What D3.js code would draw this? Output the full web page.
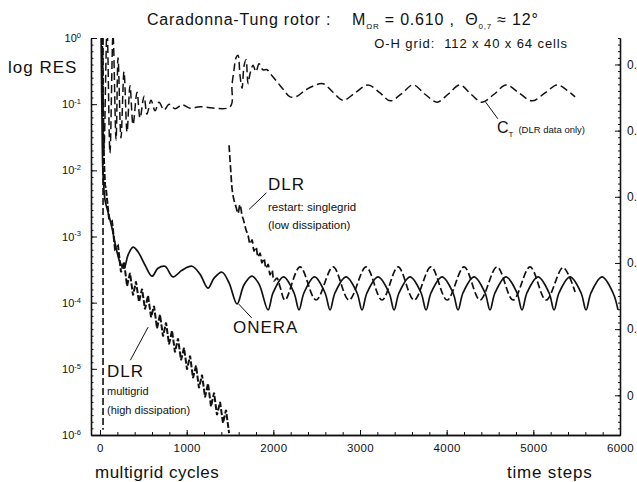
<!DOCTYPE html>
<html lang="en">

<head>
	<meta charset="utf-8">
	<script src='https://d3js.org/d3.v7.min.js'></script>
</head>

<body style="margin:0; background-color:white;">
	<style>
		text {
			font-family: "Liberation Sans", Arial, sans-serif;
			fill: #111;
			white-space: pre;
		}
	</style>
	<script>

    // x values are steps (multigrid cycles, then time steps), y values are log10(RES)
    // C_T values are in units of 1e-3 (right axis)

    var onera = [[12,0.12],[23,-1.24],[35,-2.07],[58,-2.45],[92,-2.63],[138,-2.87],[185,-3.17],[231,-3.39],
        [277,-3.48],[323,-3.28],[381,-3.16],[438,-3.23],[519,-3.43],[600,-3.60],[669,-3.48],[750,-3.45],
        [842,-3.61],[946,-3.51],[1062,-3.45],[1154,-3.57],[1246,-3.78],[1316,-3.63],[1408,-3.54],[1489,-3.70],
        [1581,-4.02],[1662,-3.73],[1754,-3.60],[1835,-3.72],[1939,-4.11],
        [1997,-3.85],[2118,-3.61],[2238,-3.85],[2296,-4.11],[2354,-3.85],[2475,-3.61],[2596,-3.85],[2654,-4.11],
        [2712,-3.85],[2839,-3.61],[2965,-3.85],[3023,-4.11],[3081,-3.85],[3208,-3.61],[3335,-3.85],[3393,-4.11],
        [3451,-3.85],[3578,-3.61],[3704,-3.85],[3762,-4.11],[3820,-3.85],[3947,-3.61],[4073,-3.85],[4131,-4.11],
        [4189,-3.85],[4316,-3.61],[4442,-3.85],[4500,-4.11],[4558,-3.85],[4685,-3.61],[4811,-3.85],[4869,-4.11],
        [4927,-3.85],[5054,-3.61],[5181,-3.85],[5239,-4.11],[5297,-3.85],[5424,-3.61],[5550,-3.85],[5608,-4.11],
        [5666,-3.85],[5793,-3.61],[5919,-3.85],[5977,-4.11]];

    var dlrMultigrid = [[23,0.12],[35,-0.94],[46,-1.84],[58,-2.22],[69,-2.28],[104,-2.73],[138,-2.76],[173,-3.19],
        [208,-3.14],[242,-3.54],[277,-3.38],[312,-3.75],[346,-3.55],[381,-3.89],[415,-3.68],[450,-3.99],
        [485,-3.79],[519,-4.10],[554,-3.89],[589,-4.22],[623,-4.05],[658,-4.39],[692,-4.18],[727,-4.51],
        [762,-4.30],[796,-4.63],[831,-4.42],[865,-4.75],[900,-4.54],[935,-4.87],[969,-4.68],[1004,-5.01],
        [1039,-4.80],[1073,-5.14],[1108,-4.95],[1142,-5.29],[1177,-5.09],[1212,-5.43],[1246,-5.22],[1281,-5.57],
        [1316,-5.36],[1350,-5.70],[1385,-5.50],[1419,-5.82],[1454,-5.62],[1489,-5.97]];

    var dlrFirstCycles = [[35,0.0],[35,-5.92]];

    var dlrRestart = [[1489,-1.62],[1500,-1.84],[1512,-2.07],[1523,-2.27],[1546,-2.45],[1569,-2.55],[1592,-2.65],
        [1615,-2.52],[1639,-2.68],[1662,-2.78],[1685,-2.90],[1708,-2.98],[1731,-3.11],[1754,-3.05],[1777,-3.22],
        [1800,-3.16],[1823,-3.31],[1846,-3.25],[1869,-3.40],[1892,-3.33],[1915,-3.48],[1939,-3.42],[1962,-3.58],
        [1985,-3.51],[2008,-3.67],[2042,-3.63],[2077,-3.76],[2135,-3.96],[2308,-3.46],[2493,-3.96],[2689,-3.46],
        [2873,-3.96],[3070,-3.46],[3254,-3.96],[3439,-3.46],[3624,-3.96],[3820,-3.46],[4004,-3.96],[4201,-3.46],
        [4385,-3.96],[4581,-3.46],[4766,-3.96],[4962,-3.46],[5147,-3.96],[5343,-3.47],[5482,-3.84]];

    var ctDlr = [[23,5.60],[46,3.71],[81,5.55],[115,3.66],[150,5.45],[185,3.86],[208,5.10],[242,3.89],[277,4.89],
        [312,3.98],[346,4.68],[381,4.09],[427,4.58],[462,4.19],[508,4.52],[542,4.25],[589,4.46],[635,4.30],
        [681,4.43],[739,4.31],[796,4.40],[866,4.33],[946,4.39],[1039,4.34],[1154,4.36],[1500,4.36],
        [1523,4.69],[1546,4.92],[1569,5.10],[1592,5.14],[1615,4.84],[1639,4.64],[1662,4.98],[1685,5.07],
        [1708,4.71],[1731,4.86],[1766,4.99],[1800,4.89],[1835,5.01],[1881,4.92],[1927,4.92],[1985,4.83],
        [2054,4.72],[2123,4.61],[2193,4.51],[2273,4.52],[2366,4.61],[2470,4.68],[2573,4.71],[2689,4.58],
        [2804,4.46],[2943,4.57],[3093,4.69],[3231,4.57],[3347,4.45],[3473,4.55],[3612,4.69],[3751,4.55],
        [3889,4.43],[4016,4.55],[4154,4.69],[4281,4.55],[4408,4.43],[4547,4.55],[4685,4.69],[4835,4.57],
        [4985,4.45],[5135,4.57],[5274,4.69],[5389,4.61],[5482,4.51]];

    var xTicks = [0, 1000, 2000, 3000, 4000, 5000, 6000];
    var logTicks = [0, -1, -2, -3, -4, -5, -6];
    var ctTicks = [0, 1, 2, 3, 4, 5];
    // the scan cuts the right-hand labels at the page edge, only "0." is left
    var ctTickLabels = ["0", "0.", "0.", "0.", "0.", "0."];

    var width = 637;
    var height = 482;

    var svg = d3.select("body").append("svg")
        .attr("width", width)
        .attr("height", height);

    // scales (plot box 91..620 x 38..435)
    var x = d3.scaleLinear().domain([-104, 6000]).range([91, 620]);
    var y = d3.scaleLinear().domain([-6, 0]).range([435, 38]);
    var yCt = d3.scaleLinear().domain([-0.6, 5.4]).range([435, 38]);

    svg.append("clipPath").attr("id", "plotclip")
        .append("rect").attr("x", 91).attr("y", 38).attr("width", 529).attr("height", 397);

    // minor ticks first
    var minorLog = d3.range(-60, 1).map(function (d) { return d / 10; });
    var minorX = d3.range(0, 6001, 200);
    var minorCt = d3.range(-6, 55).map(function (d) { return d / 10; });

    svg.append("g").attr("transform", "translate(91,0)")
        .call(d3.axisLeft(y).tickValues(minorLog).tickSize(-2.5).tickSizeOuter(0).tickFormat(""));
    svg.append("g").attr("transform", "translate(0,435)")
        .call(d3.axisBottom(x).tickValues(minorX).tickSize(-3).tickSizeOuter(0).tickFormat(""));
    svg.append("g").attr("transform", "translate(620,0)")
        .call(d3.axisRight(yCt).tickValues(minorCt).tickSize(-2).tickSizeOuter(0).tickFormat(""));

    // left axis log RES
    var leftAxis = svg.append("g").attr("transform", "translate(91,0)")
        .call(d3.axisLeft(y).tickValues(logTicks).tickSize(-6).tickSizeOuter(0).tickPadding(10));
    leftAxis.selectAll(".tick text").each(function (d) {
        var t = d3.select(this);
        t.text("10").style("font-size", "11px");
        t.append("tspan").attr("dy", "-0.55em").style("font-size", "7.5px")
            .text(d == 0 ? "0" : "-" + (-d));
    });

    // bottom axis
    svg.append("g").attr("transform", "translate(0,435)")
        .call(d3.axisBottom(x).tickValues(xTicks).tickSize(-5).tickSizeOuter(0).tickPadding(9)
            .tickFormat(d3.format("d")))
        .selectAll(".tick text").style("font-size", "11.5px").style("letter-spacing", "0.4px");

    // right axis C_T
    svg.append("g").attr("transform", "translate(620,0)")
        .call(d3.axisRight(yCt).tickValues(ctTicks).tickSize(-5).tickSizeOuter(0).tickPadding(7)
            .tickFormat(function (d, i) { return ctTickLabels[i]; }))
        .selectAll(".tick text").style("font-size", "12px");

    svg.selectAll(".domain").attr("stroke", "#111").attr("stroke-width", 1.3);
    svg.selectAll(".tick line").attr("stroke", "#111").attr("stroke-width", 1);

    // curves
    var lineRes = d3.line()
        .x(function (d) { return x(d[0]); })
        .y(function (d) { return y(d[1]); });
    var lineResSmooth = d3.line()
        .x(function (d) { return x(d[0]); })
        .y(function (d) { return y(d[1]); })
        .curve(d3.curveCatmullRom.alpha(0.5));
    var lineCt = d3.line()
        .x(function (d) { return x(d[0]); })
        .y(function (d) { return yCt(d[1]); })
        .curve(d3.curveCatmullRom.alpha(0.5));

    var plot = svg.append("g").attr("clip-path", "url(#plotclip)");

    plot.append("path").datum(dlrFirstCycles)
        .attr("d", lineRes)
        .attr("fill", "none").attr("stroke", "#111").attr("stroke-width", 1.6)
        .attr("stroke-dasharray", "7,3");

    plot.append("path").datum(dlrMultigrid)
        .attr("d", lineRes)
        .attr("fill", "none").attr("stroke", "#111").attr("stroke-width", 2)
        .attr("stroke-dasharray", "6,2");

    plot.append("path").datum(dlrRestart)
        .attr("d", lineResSmooth)
        .attr("fill", "none").attr("stroke", "#111").attr("stroke-width", 1.7)
        .attr("stroke-dasharray", "7,3");

    // ONERA: smooth arches with sharp bottoms
    plot.append("path").datum(onera)
        .attr("d", lineResSmooth)
        .attr("fill", "none").attr("stroke", "#111").attr("stroke-width", 1.7);

    plot.append("path").datum(ctDlr)
        .attr("d", lineCt)
        .attr("fill", "none").attr("stroke", "#111").attr("stroke-width", 1.5)
        .attr("stroke-dasharray", "8,4");

    // leader lines
    function leader(x1, y1, x2, y2) {
        svg.append("line")
            .attr("x1", x1).attr("y1", y1).attr("x2", x2).attr("y2", y2)
            .attr("stroke", "#111").attr("stroke-width", 1);
    }
    leader(x(1920), y(-2.34), x(1720), y(-2.59));   // DLR restart
    leader(x(1750), y(-4.23), x(1600), y(-4.02));   // ONERA
    leader(x(350), y(-4.87), x(555), y(-4.37));     // DLR multigrid
    leader(x(4450), yCt(4.43), x(4590), yCt(4.18)); // C_T

    // texts
    var title = svg.append("text").attr("x", 147).attr("y", 25)
        .style("font-size", "16px").style("letter-spacing", "0.8px");
    title.append("tspan").text("Caradonna-Tung rotor :");
    title.append("tspan").attr("x", 352).text("M");
    title.append("tspan").attr("dy", 4).style("font-size", "8px").text("ΩR");
    title.append("tspan").attr("dy", -4).text(" = 0.610 ,  Θ");
    title.append("tspan").attr("dy", 4).style("font-size", "8px").text("0,7");
    title.append("tspan").attr("dy", -4).text(" ≈ 12°");

    svg.append("text").attr("x", 568).attr("y", 48).attr("text-anchor", "end")
        .style("font-size", "13px").style("letter-spacing", "0.9px")
        .text("O-H grid:  112 x 40 x 64 cells");

    svg.append("text").attr("x", 8).attr("y", 73)
        .style("font-size", "17px").style("letter-spacing", "1px")
        .text("log RES");

    var ct = svg.append("text").attr("x", 497).attr("y", 133).style("font-size", "16px");
    ct.append("tspan").text("C");
    ct.append("tspan").attr("dy", 4).style("font-size", "8px").text("T");
    ct.append("tspan").attr("dy", -4).attr("dx", 5).style("font-size", "9.5px").text("(DLR data only)");

    function label(tx, ty, size, str, spacing) {
        svg.append("text").attr("x", tx).attr("y", ty)
            .style("font-size", size + "px").style("letter-spacing", spacing + "px")
            .text(str);
    }
    label(268, 190, 17, "DLR", 1);
    label(268, 211, 11.5, "restart: singlegrid", 0);
    label(268, 229, 11.5, "(low dissipation)", 0);
    label(233, 333, 17, "ONERA", 1);
    label(107, 377, 17, "DLR", 1);
    label(107, 395, 11, "multigrid", 0);
    label(107, 414, 11, "(high dissipation)", 0);
    label(95, 478, 17, "multigrid cycles", 0.5);
    label(507, 478, 17, "time steps", 0.8);

	</script>
</body>

</html>
